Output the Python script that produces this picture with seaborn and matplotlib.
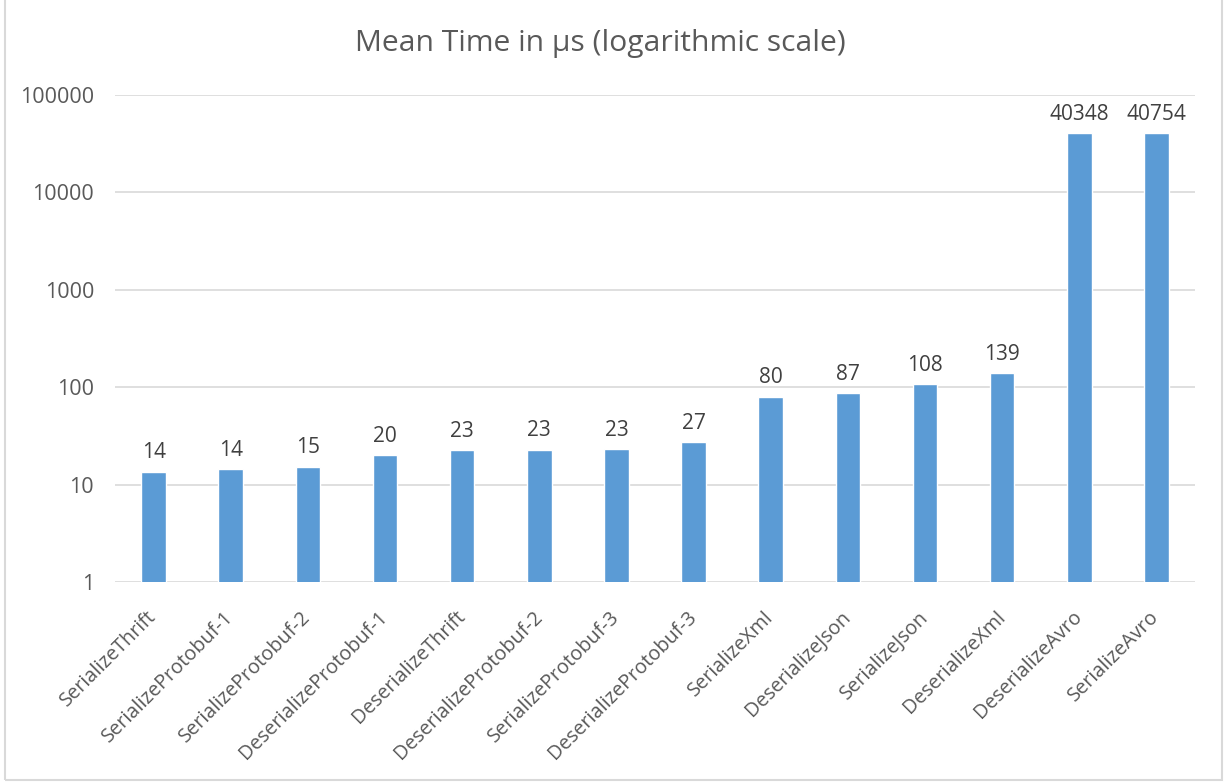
import matplotlib
matplotlib.use("Agg")
import matplotlib.pyplot as plt
import seaborn as sns
import pandas as pd
from matplotlib.patches import Rectangle
from matplotlib.ticker import FixedLocator, NullLocator, FixedFormatter

categories = ["SerializeThrift", "SerializeProtobuf-1", "SerializeProtobuf-2",
              "DeserializeProtobuf-1", "DeserializeThrift", "DeserializeProtobuf-2",
              "SerializeProtobuf-3", "DeserializeProtobuf-3", "SerializeXml",
              "DeserializeJson", "SerializeJson", "DeserializeXml",
              "DeserializeAvro", "SerializeAvro"]
values = [13.6, 14.4, 15.3, 20.2, 22.7, 22.8, 23.2, 27.1, 80, 87, 108, 139, 40348, 40754]
bar_labels = ["14", "14", "15", "20", "23", "23", "23", "27", "80", "87", "108", "139", "40348", "40754"]
y_ticks = [1, 10, 100, 1000, 10000, 100000]
y_tick_labels = ["1", "10", "100", "1000", "10000", "100000"]
title = "Mean Time in µs (logarithmic scale)"

sns.set_theme(style="white")
plt.rcParams["font.family"] = ["Open Sans", "DejaVu Sans"]

df = pd.DataFrame({"name": categories, "value": values})

fig = plt.figure(figsize=(12.29, 7.84), dpi=100)
ax = fig.add_axes([115/1229, 1-582/784, (1195-115)/1229, (582-95)/784])
ax.set_yscale("log")
sns.barplot(data=df, x="name", y="value", order=categories, color="#5b9bd5",
            saturation=1, width=0.32, ax=ax, zorder=3)
ax.set_ylim(1, 100000)
ax.set_xlim(-0.5, len(categories) - 0.5)
ax.yaxis.set_major_locator(FixedLocator(y_ticks))
ax.yaxis.set_major_formatter(FixedFormatter(y_tick_labels))
ax.yaxis.set_minor_locator(NullLocator())
ax.grid(axis="y", color="#d9d9d9", linewidth=1.2, zorder=0)
ax.grid(axis="x", visible=False)
for s in ax.spines.values():
    s.set_visible(False)
ax.set_xlabel("")
ax.set_ylabel("")
ax.tick_params(axis="y", length=0, pad=15, labelsize=15.5, labelcolor="#595959")
ax.tick_params(axis="x", length=0, pad=23, labelsize=14.3, labelcolor="#595959")
for lbl in ax.get_xticklabels():
    lbl.set_rotation(45)
    lbl.set_ha("right")
    lbl.set_va("center")
    lbl.set_rotation_mode("anchor")

ax.bar_label(ax.containers[0], labels=bar_labels, padding=6, fontsize=15, color="#404040")

fig.text(600/1229, 1 - 43/784, title, ha="center", va="center", fontsize=21.6, color="#595959")

fig.patches.append(Rectangle((5/1229, 4/784), (1222-5)/1229, 1.0, transform=fig.transFigure,
                             fill=False, edgecolor="#d9d9d9", linewidth=1.5))

fig.savefig("out.png", dpi=100, facecolor="white")
